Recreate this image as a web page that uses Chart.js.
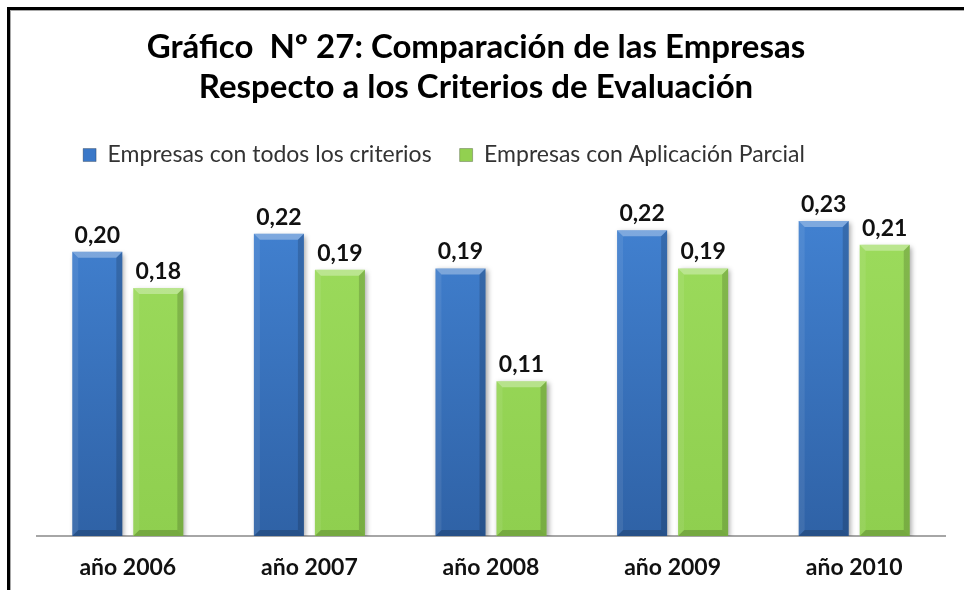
<!DOCTYPE html>
<html lang="es">
<head>
<meta charset="utf-8">
<title>Gráfico Nº 27</title>
<script src="https://cdn.jsdelivr.net/npm/chart.js@4/dist/chart.umd.min.js"></script>
<style>
  html, body { margin: 0; padding: 0; background: #fff; }
  #wrap { position: relative; width: 964px; height: 590px; overflow: hidden; }
  #chart { position: absolute; left: 0; top: 0; }
  #frame { position: absolute; left: 7px; top: 7px; width: 1000px; height: 600px;
           border-left: 3px solid #000; border-top: 3px solid #000; pointer-events: none; }
  #frame div { position: absolute; left: 0; top: 0; width: 100%; height: 100%;
               border-left: 1px solid #a8a8a8; border-top: 1px solid #a8a8a8; }
</style>
</head>
<body>
<div id="wrap">
  <canvas id="chart" width="964" height="590"></canvas>
  <div id="frame"><div></div></div>
</div>
<script>
const years = ["año 2006", "año 2007", "año 2008", "año 2009", "año 2010"];
const seriesNames = ["Empresas con todos los criterios", "Empresas con Aplicación Parcial"];
const todosCriterios = [0.204, 0.217, 0.192, 0.2195, 0.226];
const aplicacionParcial = [0.178, 0.191, 0.111, 0.192, 0.209];
const titleLines = ["Gráfico  Nº 27: Comparación de las Empresas", "Respecto a los Criterios de Evaluación"];

const FONT = "Lato, 'Open Sans', sans-serif";
const legendColors = ["#3b78c8", "#92d050"];

// vertical gradient over the plot area, a bit darker at the bottom
function barFill(top, bottom) {
  return (ctx) => {
    const area = ctx.chart.chartArea;
    if (!area) return top;
    const g = ctx.chart.ctx.createLinearGradient(0, area.top, 0, area.bottom);
    g.addColorStop(0, top);
    g.addColorStop(1, bottom);
    return g;
  };
}

const fmt = (v) => v.toFixed(2).replace(".", ",");

// title and legend sit a little left of the plot centre in the original
const shiftPlugin = {
  id: "shiftBoxes",
  afterLayout(chart) {
    chart.titleBlock.left -= 30;
    chart.legend.left -= 94;
  }
};

// soft shadow behind bars
const shadowPlugin = {
  id: "barShadow",
  beforeDatasetsDraw(chart) {
    const c = chart.ctx;
    c.save();
    c.shadowColor = "rgba(0,0,0,0.35)";
    c.shadowBlur = 5;
    c.shadowOffsetX = 2;
    c.shadowOffsetY = 2;
  },
  afterDatasetsDraw(chart) {
    chart.ctx.restore();
  }
};

// bevel edges + value labels
const bevelPlugin = {
  id: "bevel",
  afterDatasetsDraw(chart) {
    const c = chart.ctx;
    chart.data.datasets.forEach((ds, di) => {
      const meta = chart.getDatasetMeta(di);
      meta.data.forEach((bar, i) => {
        const { x, y, base, width } = bar.getProps(["x", "y", "base", "width"], true);
        const l = x - width / 2, r = x + width / 2, t = y, b = base;
        const e = 6;
        c.save();
        // top
        c.fillStyle = "rgba(255,255,255,0.32)";
        c.beginPath();
        c.moveTo(l, t); c.lineTo(r, t); c.lineTo(r - e, t + e); c.lineTo(l + e, t + e); c.closePath();
        c.fill();
        // left
        c.fillStyle = "rgba(255,255,255,0.08)";
        c.beginPath();
        c.moveTo(l, t); c.lineTo(l + e, t + e); c.lineTo(l + e, b - e); c.lineTo(l, b); c.closePath();
        c.fill();
        // right
        c.fillStyle = "rgba(0,0,0,0.16)";
        c.beginPath();
        c.moveTo(r, t); c.lineTo(r - e, t + e); c.lineTo(r - e, b - e); c.lineTo(r, b); c.closePath();
        c.fill();
        // bottom
        c.fillStyle = "rgba(0,0,0,0.18)";
        c.beginPath();
        c.moveTo(l, b); c.lineTo(l + e, b - e); c.lineTo(r - e, b - e); c.lineTo(r, b); c.closePath();
        c.fill();
        // value label
        c.fillStyle = "#111";
        c.font = "bold 23px " + FONT;
        c.textAlign = "center";
        c.textBaseline = "bottom";
        c.fillText(fmt(ds.data[i]), x, t - 5);
        c.restore();
      });
    });
  }
};

new Chart(document.getElementById("chart"), {
  type: "bar",
  data: {
    labels: years,
    datasets: [
      {
        label: seriesNames[0],
        data: todosCriterios,
        backgroundColor: barFill("#4485d6", "#2f62a6"),
        borderWidth: 0,
        categoryPercentage: 0.672,
        barPercentage: 0.82
      },
      {
        label: seriesNames[1],
        data: aplicacionParcial,
        backgroundColor: barFill("#9edd5e", "#8fcf4f"),
        borderWidth: 0,
        categoryPercentage: 0.672,
        barPercentage: 0.82
      }
    ]
  },
  options: {
    responsive: false,
    animation: false,
    devicePixelRatio: 1,
    layout: { padding: { top: 10, left: 37, right: 19, bottom: 0 } },
    plugins: {
      title: {
        display: true,
        text: titleLines,
        color: "#000",
        font: { family: FONT, size: 33, weight: "bold", lineHeight: 1.22 },
        padding: { top: 17, bottom: 8 }
      },
      legend: {
        position: "top",
        labels: {
          color: "#333",
          font: { family: FONT, size: 23 },
          boxWidth: 13,
          boxHeight: 13,
          padding: 28,
          generateLabels(chart) {
            const items = Chart.defaults.plugins.legend.labels.generateLabels(chart);
            items.forEach((it, i) => {
              it.fillStyle = legendColors[i];
              it.strokeStyle = "rgba(0,0,0,0.25)";
              it.lineWidth = 1;
            });
            return items;
          }
        }
      },
      tooltip: { enabled: false }
    },
    scales: {
      x: {
        grid: { display: false },
        border: { display: true, color: "#a6a6a6", width: 2 },
        ticks: {
          color: "#111",
          font: { family: FONT, size: 23, weight: "bold" },
          padding: 10
        },
        afterFit(scale) {
          scale.height = 54;
        }
      },
      y: {
        display: false,
        min: 0,
        max: 0.258
      }
    }
  },
  plugins: [shiftPlugin, shadowPlugin, bevelPlugin]
});
</script>
</body>
</html>
